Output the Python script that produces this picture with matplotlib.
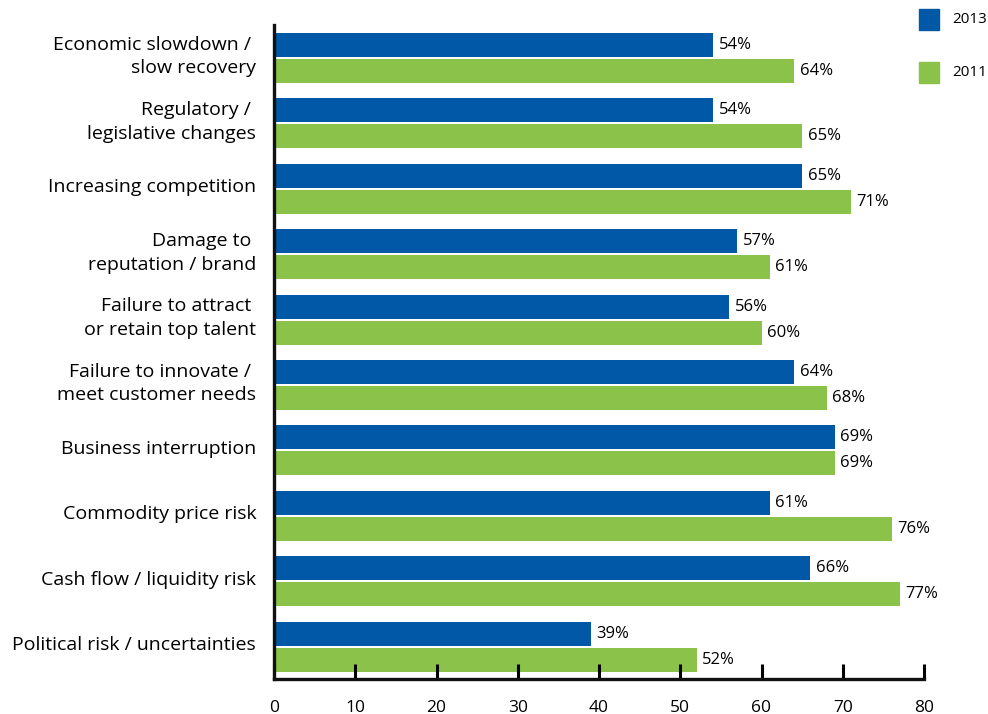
import numpy as np
import matplotlib
matplotlib.use("Agg")
import matplotlib.pyplot as plt

plt.rcParams["font.family"] = ["Open Sans", "DejaVu Sans"]

categories = [
    "Economic slowdown / \nslow recovery",
    "Regulatory / \nlegislative changes",
    "Increasing competition",
    "Damage to \nreputation / brand",
    "Failure to attract \nor retain top talent",
    "Failure to innovate / \nmeet customer needs",
    "Business interruption",
    "Commodity price risk",
    "Cash flow / liquidity risk",
    "Political risk / uncertainties",
]
vals_2013 = [54, 54, 65, 57, 56, 64, 69, 61, 66, 39]
vals_2011 = [64, 65, 71, 61, 60, 68, 69, 76, 77, 52]
x_ticks = [0, 10, 20, 30, 40, 50, 60, 70, 80]

BLUE = "#0058a7"
GREEN = "#8bc34a"

fig = plt.figure(figsize=(9.88, 7.14), dpi=100)
ax = fig.add_axes([274 / 988, 1 - 679 / 714, 650 / 988, 654 / 714])

# y runs in screen pixels from the top so the bar spacing stays fixed
pitch = 65.4
idx = np.arange(len(categories))
y_blue = 45 + pitch * idx
y_green = y_blue + 26
bar_h = 24

ax.barh(y_blue, vals_2013, height=bar_h, color=BLUE, label="2013")
ax.barh(y_green, vals_2011, height=bar_h, color=GREEN, label="2011")

for y, v in zip(y_blue, vals_2013):
    ax.text(v + 0.7, y, f"{v}%", va="center", ha="left", fontsize=12)
for y, v in zip(y_green, vals_2011):
    ax.text(v + 0.7, y, f"{v}%", va="center", ha="left", fontsize=12)

for y, name in zip((y_blue + y_green) / 2, categories):
    ax.text(-2.2, y - 1.5, name, ha="right", va="center", fontsize=14,
            linespacing=1.4)

ax.set_xlim(0, 80)
ax.set_ylim(679, 25)
ax.set_xticks(x_ticks)
ax.set_xticklabels([str(t) for t in x_ticks], fontsize=12.5)
ax.set_yticks([])
ax.tick_params(axis="x", direction="in", length=11, width=2.2, pad=15)
for s in ("top", "right"):
    ax.spines[s].set_visible(False)
for s in ("left", "bottom"):
    ax.spines[s].set_linewidth(2.4)
    ax.spines[s].set_color("#111111")

# legend squares at the top right
for yy, col, lab in [(19.5, BLUE, "2013"), (72.5, GREEN, "2011")]:
    fig.patches.append(plt.Rectangle((919 / 988, 1 - (yy + 10) / 714), 20 / 988, 20 / 714,
                                     transform=fig.transFigure, color=col))
    fig.text(952 / 988, 1 - yy / 714, lab, ha="left", va="center", fontsize=11)

fig.savefig("out.png", dpi=100)
